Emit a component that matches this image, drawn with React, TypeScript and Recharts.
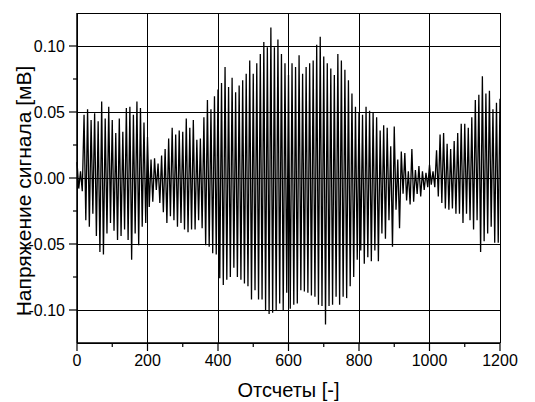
import React from 'react';
import { LineChart, Line, XAxis, YAxis, CartesianGrid, Label } from 'recharts';

// extrema, one positive and one negative swing per 10 samples
const SAMPLE_STEP = 10;

const peaks = [
  0.012, 0.005, 0.048, 0.052, 0.044, 0.049, 0.043, 0.058, 0.045, 0.054,
  0.044, 0.034, 0.045, 0.035, 0.053, 0.054, 0.048, 0.058, 0.053, 0.042,
  0.031, 0.014, 0.015, 0.011, 0.017, 0.022, 0.030, 0.038, 0.033, 0.036,
  0.035, 0.045, 0.038, 0.044, 0.029, 0.030, 0.046, 0.059, 0.052, 0.062,
  0.067, 0.072, 0.084, 0.069, 0.076, 0.065, 0.070, 0.074, 0.079, 0.089,
  0.079, 0.087, 0.094, 0.103, 0.099, 0.114, 0.099, 0.105, 0.094, 0.087,
  0.078, 0.087, 0.084, 0.093, 0.079, 0.084, 0.087, 0.089, 0.101, 0.107,
  0.092, 0.087, 0.083, 0.078, 0.094, 0.089, 0.082, 0.074, 0.064, 0.054,
  0.050, 0.048, 0.054, 0.051, 0.050, 0.046, 0.036, 0.040, 0.038, 0.024,
  0.039, 0.014, 0.020, 0.019, 0.005, 0.022, 0.006, 0.009, 0.005, 0.004,
  0.010, 0.005, 0.021, 0.033, 0.034, 0.026, 0.022, 0.028, 0.034, 0.041,
  0.041, 0.038, 0.046, 0.059, 0.063, 0.077, 0.064, 0.066, 0.052, 0.057,
  0.060,
];

const troughs = [
  -0.008, -0.010, -0.032, -0.037, -0.027, -0.044, -0.056, -0.058, -0.042, -0.034,
  -0.040, -0.047, -0.044, -0.039, -0.047, -0.062, -0.042, -0.051, -0.037, -0.034,
  -0.022, -0.018, -0.009, -0.019, -0.026, -0.034, -0.029, -0.032, -0.037, -0.034,
  -0.039, -0.041, -0.039, -0.039, -0.032, -0.038, -0.051, -0.052, -0.057, -0.058,
  -0.076, -0.081, -0.077, -0.075, -0.068, -0.075, -0.077, -0.080, -0.082, -0.092,
  -0.085, -0.092, -0.092, -0.100, -0.103, -0.102, -0.100, -0.095, -0.100, -0.087,
  -0.099, -0.096, -0.095, -0.085, -0.086, -0.087, -0.089, -0.090, -0.096, -0.097,
  -0.111, -0.097, -0.096, -0.090, -0.096, -0.090, -0.091, -0.082, -0.075, -0.062,
  -0.055, -0.065, -0.060, -0.063, -0.055, -0.063, -0.042, -0.046, -0.032, -0.052,
  -0.024, -0.038, -0.012, -0.017, -0.020, -0.018, -0.012, -0.014, -0.009, -0.007,
  -0.005, -0.007, -0.014, -0.019, -0.023, -0.024, -0.023, -0.027, -0.027, -0.034,
  -0.027, -0.032, -0.039, -0.032, -0.056, -0.048, -0.042, -0.037, -0.049, -0.049,
];

const xTicks = [0, 100, 200, 300, 400, 500, 600, 700, 800, 900, 1000, 1100, 1200];
const xGrid = [0, 200, 400, 600, 800, 1000, 1200];
const yTicks = [-0.1, -0.075, -0.05, -0.025, 0, 0.025, 0.05, 0.075, 0.1];
const yGrid = [-0.125, -0.1, -0.05, 0, 0.05, 0.1, 0.125];

const data: { sample: number; mv: number }[] = [];
peaks.forEach((p, i) => {
  data.push({ sample: i * SAMPLE_STEP, mv: p });
  if (i < troughs.length) data.push({ sample: i * SAMPLE_STEP + SAMPLE_STEP / 2, mv: troughs[i] });
});

const FONT = '"Liberation Sans", Arial, sans-serif';
const TICK = 8;
const GAP = 4;

const XTick = (props: any) => {
  const { x, y, payload } = props;
  const major = payload.value % 200 === 0;
  const axisY = y - GAP - TICK;
  return (
    <g>
      <line x1={x} x2={x} y1={axisY} y2={axisY + (major ? TICK : 4)} stroke="#000" strokeWidth={1.2} />
      {major && (
        <text x={x} y={y} dy="0.71em" textAnchor="middle" fontSize={16} fontFamily={FONT} fill="#000">
          {payload.value}
        </text>
      )}
    </g>
  );
};

const YTick = (props: any) => {
  const { x, y, payload } = props;
  const v = payload.value;
  const major = Math.round(Math.abs(v) * 1000) % 50 === 0;
  const axisX = x + GAP + TICK;
  return (
    <g>
      <line x1={axisX - (major ? TICK : 4)} x2={axisX} y1={y} y2={y} stroke="#000" strokeWidth={1.2} />
      {major && (
        <text x={x} y={y} dy="0.355em" textAnchor="end" fontSize={16} fontFamily={FONT} fill="#000">
          {v.toFixed(2)}
        </text>
      )}
    </g>
  );
};

const XTitle = (props: any) => {
  const vb = props.viewBox;
  return (
    <text x={vb.x + vb.width / 2} y={vb.y + 54} textAnchor="middle" fontSize={20} fontFamily={FONT} fill="#000">
      Отсчеты [-]
    </text>
  );
};

const YTitle = (props: any) => {
  const vb = props.viewBox;
  const cx = vb.x + 31;
  const cy = vb.y + vb.height / 2 + 13;
  return (
    <text
      x={cx}
      y={cy}
      transform={`rotate(-90 ${cx} ${cy})`}
      textAnchor="middle"
      fontSize={21}
      fontFamily={FONT}
      fill="#000"
    >
      Напряжение сигнала [мВ]
    </text>
  );
};

export default function App() {
  return (
    <div style={{ position: 'absolute', left: 0, top: 0, background: '#fff' }}>
      <LineChart width={535} height={402} data={data} margin={{ top: 13, right: 35, left: 0, bottom: 0 }}>
        <CartesianGrid
          stroke="#000"
          strokeWidth={1}
          shapeRendering="crispEdges"
          verticalValues={xGrid}
          horizontalValues={yGrid}
        />
        <XAxis
          dataKey="sample"
          type="number"
          domain={[0, 1200]}
          ticks={xTicks}
          interval={0}
          height={59}
          tickSize={TICK}
          tickMargin={GAP}
          tickLine={false}
          tick={<XTick />}
          axisLine={{ stroke: '#000', strokeWidth: 1.5 }}
        >
          <Label content={<XTitle />} />
        </XAxis>
        <YAxis
          type="number"
          domain={[-0.125, 0.125]}
          allowDataOverflow
          ticks={yTicks}
          interval={0}
          width={77}
          tickSize={TICK}
          tickMargin={GAP}
          tickLine={false}
          tick={<YTick />}
          axisLine={{ stroke: '#000', strokeWidth: 1.5 }}
        >
          <Label content={<YTitle />} />
        </YAxis>
        <Line
          type="linear"
          dataKey="mv"
          stroke="#000"
          strokeWidth={1.3}
          dot={false}
          isAnimationActive={false}
        />
      </LineChart>
    </div>
  );
}
